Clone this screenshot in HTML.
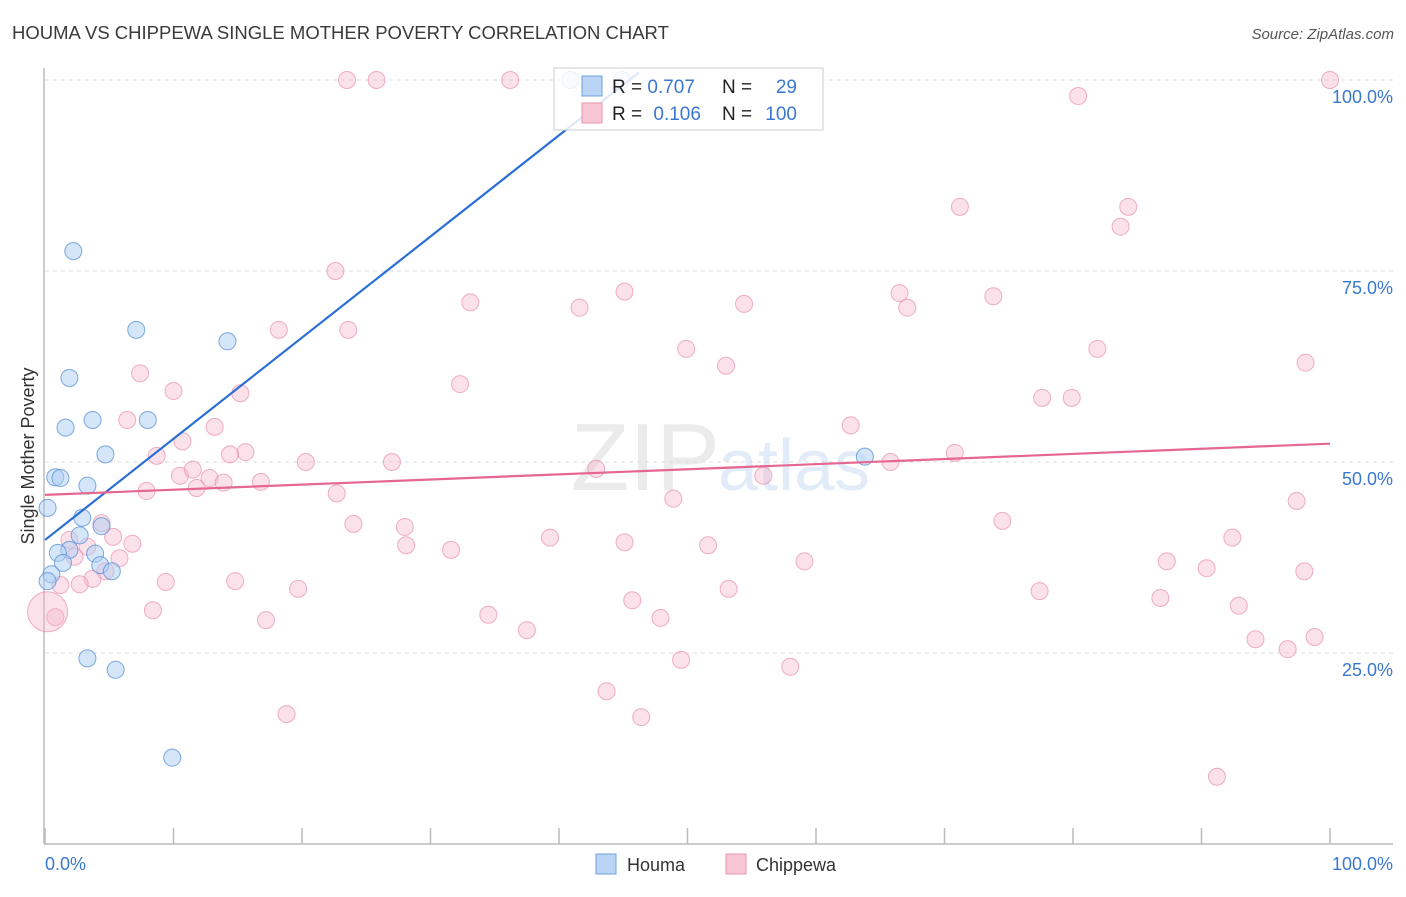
<!DOCTYPE html>
<html><head><meta charset="utf-8"><style>
body{margin:0;background:#fff;font-family:"Liberation Sans",sans-serif}
svg text{font-family:"Liberation Sans",sans-serif}
</style></head><body>
<svg id="chart" width="1406" height="892" xmlns="http://www.w3.org/2000/svg">
<text x="12" y="39" font-size="18.5" fill="#3a3a3a">HOUMA VS CHIPPEWA SINGLE MOTHER POVERTY CORRELATION CHART</text>
<text x="1394" y="39" font-size="15" fill="#555" text-anchor="end" font-style="italic">Source: ZipAtlas.com</text>
<text x="720" y="490" font-size="96" fill="#ebebeb" text-anchor="end" font-family="Liberation Serif">ZIP</text>
<text x="718" y="490" font-size="72" fill="#e2ecf8">atlas</text>
<g id="grid"></g>
<g id="axes"></g>
<g id="pts"></g>
<g id="lines"></g>
<text transform="translate(34,456) rotate(-90)" font-size="18" fill="#333" text-anchor="middle">Single Mother Poverty</text>
<g>
<rect x="554" y="68" width="269" height="62" fill="#fff" fill-opacity="0.85" stroke="#ccc"/>
<rect x="582" y="76" width="20" height="20" fill="#b9d4f5" stroke="#6fa0de"/>
<rect x="582" y="103" width="20" height="20" fill="#f9c6d5" stroke="#ec94b1"/>
<text x="612" y="93" font-size="19" fill="#222">R = <tspan fill="#3a78d0">0.707</tspan></text>
<text x="722" y="93" font-size="19" fill="#222">N =</text><text x="797" y="93" font-size="19" fill="#3a78d0" text-anchor="end">29</text>
<text x="612" y="120" font-size="19" fill="#222">R = <tspan fill="#3a78d0" dx="6">0.106</tspan></text>
<text x="722" y="120" font-size="19" fill="#222">N =</text><text x="797" y="120" font-size="19" fill="#3a78d0" text-anchor="end">100</text>
</g>
<g><rect x="596" y="854" width="20" height="20" fill="#b9d4f5" stroke="#6fa0de"/><text x="627" y="871" font-size="18" fill="#333">Houma</text></g>
<g><rect x="726" y="854" width="20" height="20" fill="#f9c6d5" stroke="#ec94b1"/><text x="756" y="871" font-size="18" fill="#333">Chippewa</text></g>
</svg>
<script>
const yTicks=[25,50,75,100];
const yTickLabels=["25.0%","50.0%","75.0%","100.0%"];
const xTickVals=[0,10,20,30,40,50,60,70,80,90,100];
const houmaX=[2.2,7.1,14.2,1.9,3.7,8.0,1.6,4.7,0.8,1.2,3.3,0.2,2.9,2.7,1.9,1.0,3.9,1.4,4.3,5.2,0.5,0.2,3.3,5.5,9.9,40.9,44.9,63.8,4.4];
const houmaY=[77.6,67.3,65.8,61.0,55.5,55.5,54.5,51.0,48.0,47.9,46.9,44.0,42.7,40.4,38.5,38.1,38.0,36.8,36.5,35.7,35.3,34.4,24.3,22.8,11.3,100,100,50.7,41.6];
const chipX=[23.5,25.8,36.2,100,80.4,71.2,84.3,83.7,22.6,33.1,41.6,45.1,54.4,66.5,67.1,73.8,18.2,23.6,49.9,53.0,81.9,98.1,7.4,32.3,10.0,15.2,77.6,79.9,6.4,62.7,13.2,10.7,15.6,14.4,8.7,20.3,27.0,65.8,70.8,42.9,55.9,10.5,11.5,12.8,13.9,16.8,11.8,7.9,22.7,48.9,97.4,24.0,74.5,28.0,4.4,5.3,1.9,6.8,39.3,45.1,51.6,92.4,28.1,31.6,3.3,2.3,5.8,59.1,87.3,90.4,98.0,4.7,3.7,9.4,14.8,2.7,1.2,19.7,53.2,77.4,45.7,86.8,92.9,8.4,34.5,47.9,0.8,17.2,37.5,94.2,98.8,96.7,49.5,58.0,43.7,18.8,46.4,91.2,0.2];
const chipY=[100,100,100,100,97.9,83.4,83.4,80.8,75.0,70.9,70.2,72.3,70.7,72.1,70.2,71.7,67.3,67.3,64.8,62.6,64.8,63.0,61.6,60.2,59.3,59.0,58.4,58.4,55.5,54.8,54.6,52.7,51.3,51.0,50.8,50.0,50.0,50.0,51.2,49.1,48.2,48.2,49.0,47.9,47.3,47.4,46.6,46.2,45.9,45.2,44.9,41.9,42.3,41.5,42.0,40.2,39.8,39.3,40.1,39.5,39.1,40.1,39.1,38.5,38.9,37.6,37.4,37.0,37.0,36.1,35.7,35.7,34.7,34.3,34.4,34.0,33.9,33.4,33.4,33.1,31.9,32.2,31.2,30.6,30.0,29.6,29.7,29.3,28.0,26.8,27.1,25.5,24.1,23.2,20.0,17.0,16.6,8.8,30.4];
const houmaFit=[39.8,1.324];
const chipFit=[45.7,0.067];
const NS="http://www.w3.org/2000/svg";
function sx(v){return 45+v*12.85;}
function sy(v){return 844-v*7.64;}
function mk(tag,attrs,parent){const e=document.createElementNS(NS,tag);for(const k in attrs)e.setAttribute(k,attrs[k]);parent.appendChild(e);return e;}
const grid=document.getElementById('grid'),axes=document.getElementById('axes'),pts=document.getElementById('pts'),lines=document.getElementById('lines');
yTicks.forEach((t,i)=>{
 const l=mk('line',{x1:45,x2:1393,y1:sy(t),y2:sy(t),stroke:'#dcdcdc','stroke-dasharray':'4,4'},grid);
 
 
 const tx=mk('text',{x:1393,y:sy(t)+23,'font-size':18,fill:'#3a78d0','text-anchor':'end'},axes);
 tx.textContent=yTickLabels[i];
 
 
});
const ya=mk('line',{x1:44,x2:44,y1:68,y2:844,stroke:'#bbb','stroke-width':1.5},axes);


const xa=mk('line',{x1:44,x2:1393,y1:844,y2:844,stroke:'#bbb','stroke-width':1.5},axes);


xTickVals.forEach(v=>{
 const t=mk('line',{x1:sx(v),x2:sx(v),y1:828,y2:844,stroke:'#bbb','stroke-width':1.5},axes);
 
 
});
const x0=mk('text',{x:45,y:870,'font-size':18,fill:'#3a78d0'},axes);x0.textContent='0.0%';


const x1=mk('text',{x:1393,y:870,'font-size':18,fill:'#3a78d0','text-anchor':'end'},axes);x1.textContent='100.0%';


chipX.forEach((x,i)=>{
 const big=(i===chipX.length-1);
 const c=mk('circle',{cx:sx(x),cy:sy(chipY[i]),r:big?20:8.5,fill:'#f6b3c8','fill-opacity':0.4,stroke:'#ea8fae','stroke-opacity':0.7},pts);
 
 
});
houmaX.forEach((x,i)=>{
 const c=mk('circle',{cx:sx(x),cy:sy(houmaY[i]),r:8.5,fill:'#aecdf3','fill-opacity':0.5,stroke:'#5d95da','stroke-opacity':0.8},pts);
 
 
});
const hxEnd=(101-houmaFit[0])/houmaFit[1];
const hl=mk('line',{x1:sx(0),y1:sy(houmaFit[0]),x2:sx(hxEnd),y2:sy(houmaFit[0]+houmaFit[1]*hxEnd),stroke:'#2a6fd6','stroke-width':2.2},lines);


const cl=mk('line',{x1:sx(0),y1:sy(chipFit[0]),x2:sx(100),y2:sy(chipFit[0]+chipFit[1]*100),stroke:'#e5668f','stroke-width':2.2},lines);


</script>
</body></html>
